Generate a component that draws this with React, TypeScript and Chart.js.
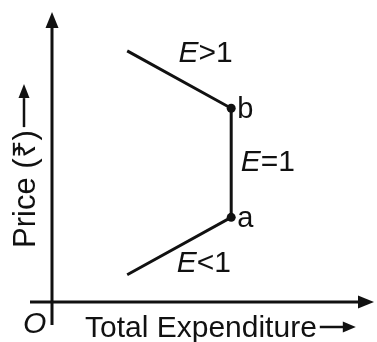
import React, { useEffect, useRef } from "react";
import { Chart, registerables } from "chart.js";

Chart.register(...registerables);

// Total expenditure (x) and price (y) of the curve, in chart units
const expenditure = [2.35, 5.6, 5.6, 2.35];
const price = [8.75, 6.75, 2.95, 0.95];
const pointSizes = [0, 4.5, 4.5, 0];
const pointNames = ["", "b", "a", ""];
const xAxisTitle = "Total Expenditure";
const yAxisTitle = "Price (₹)";
const segmentLabels = [
  { rel: ">1", x: 3.95, y: 8.35 },
  { rel: "=1", x: 5.9, y: 4.55 },
  { rel: "<1", x: 3.9, y: 1.05 },
];

const FONT = '"Liberation Sans", Arial, Helvetica, sans-serif';
const INK = "#111";

function arrowHead(ctx: CanvasRenderingContext2D, tx: number, ty: number, dir: "up" | "right", len: number, half: number) {
  ctx.beginPath();
  if (dir === "up") {
    ctx.moveTo(tx, ty);
    ctx.lineTo(tx - half, ty + len);
    ctx.lineTo(tx + half, ty + len);
  } else {
    ctx.moveTo(tx, ty);
    ctx.lineTo(tx - len, ty - half);
    ctx.lineTo(tx - len, ty + half);
  }
  ctx.closePath();
  ctx.fill();
}

const decorations = {
  id: "decorations",
  afterDatasetsDraw(chart: any) {
    const { ctx, chartArea, scales } = chart;
    const xs = scales.x;
    const ys = scales.y;
    const ox = xs.getPixelForValue(0);
    const oy = ys.getPixelForValue(0);
    ctx.save();
    ctx.strokeStyle = INK;
    ctx.fillStyle = INK;
    ctx.lineWidth = 3;
    // y axis
    ctx.beginPath();
    ctx.moveTo(ox, oy + 23);
    ctx.lineTo(ox, chartArea.top + 10);
    ctx.stroke();
    arrowHead(ctx, ox, chartArea.top - 3, "up", 16, 6.5);
    // x axis
    ctx.beginPath();
    ctx.moveTo(ox - 22, oy);
    ctx.lineTo(chartArea.right - 8, oy);
    ctx.stroke();
    arrowHead(ctx, chartArea.right + 2, oy, "right", 16, 6.5);

    // origin label
    ctx.font = `italic 30px ${FONT}`;
    ctx.textBaseline = "alphabetic";
    ctx.textAlign = "left";
    ctx.fillText("O", ox - 29, oy + 31);

    // x axis title
    ctx.font = `30px ${FONT}`;
    ctx.fillText(xAxisTitle, 85, oy + 35);
    const tw = ctx.measureText(xAxisTitle).width;
    const ax0 = 85 + tw + 3;
    ctx.lineWidth = 2.5;
    ctx.beginPath();
    ctx.moveTo(ax0, oy + 25);
    ctx.lineTo(ax0 + 24, oy + 25);
    ctx.stroke();
    arrowHead(ctx, ax0 + 36, oy + 25, "right", 13, 5.5);

    // y axis title (rotated)
    ctx.save();
    ctx.translate(35, 248);
    ctx.rotate(-Math.PI / 2);
    ctx.font = `31px ${FONT}`;
    ctx.fillText(yAxisTitle, 0, 0);
    const yw = ctx.measureText(yAxisTitle).width;
    ctx.beginPath();
    ctx.moveTo(yw + 3, -11);
    ctx.lineTo(yw + 32, -11);
    ctx.stroke();
    arrowHead(ctx, yw + 46, -11, "right", 14, 5.5);
    ctx.restore();

    // point names
    ctx.font = `29px ${FONT}`;
    for (let i = 0; i < expenditure.length; i++) {
      if (!pointNames[i]) continue;
      const px = xs.getPixelForValue(expenditure[i]);
      const py = ys.getPixelForValue(price[i]);
      ctx.fillText(pointNames[i], px + 6, py + 10);
    }

    // segment elasticity labels
    for (const s of segmentLabels) {
      const px = xs.getPixelForValue(s.x);
      const py = ys.getPixelForValue(s.y);
      ctx.font = `italic 30px ${FONT}`;
      ctx.fillText("E", px, py);
      const ew = ctx.measureText("E").width;
      ctx.font = `30px ${FONT}`;
      ctx.fillText(s.rel, px + ew, py);
    }
    ctx.restore();
  },
};

export default function App() {
  const ref = useRef<HTMLCanvasElement | null>(null);
  useEffect(() => {
    if (!ref.current) return;
    const chart = new Chart(ref.current, {
      type: "scatter",
      data: {
        datasets: [
          {
            data: expenditure.map((x, i) => ({ x, y: price[i] })),
            showLine: true,
            borderColor: INK,
            borderWidth: 3,
            pointRadius: pointSizes,
            pointBackgroundColor: INK,
            pointBorderColor: INK,
            pointBorderWidth: 0,
            tension: 0,
          },
        ],
      },
      options: {
        animation: false,
        responsive: false,
        maintainAspectRatio: false,
        layout: { padding: { left: 52, right: 5, top: 15, bottom: 40 } },
        plugins: { legend: { display: false }, tooltip: { enabled: false } },
        scales: {
          x: { type: "linear", min: 0, max: 10, display: false },
          y: { type: "linear", min: 0, max: 10, display: false },
        },
      },
      plugins: [decorations],
    });
    return () => chart.destroy();
  }, []);
  return (
    <div style={{ position: "fixed", left: 0, top: 0, width: 377, height: 342, background: "#fff" }}>
      <canvas ref={ref} width={377} height={342} style={{ width: 377, height: 342, display: "block" }} />
    </div>
  );
}
